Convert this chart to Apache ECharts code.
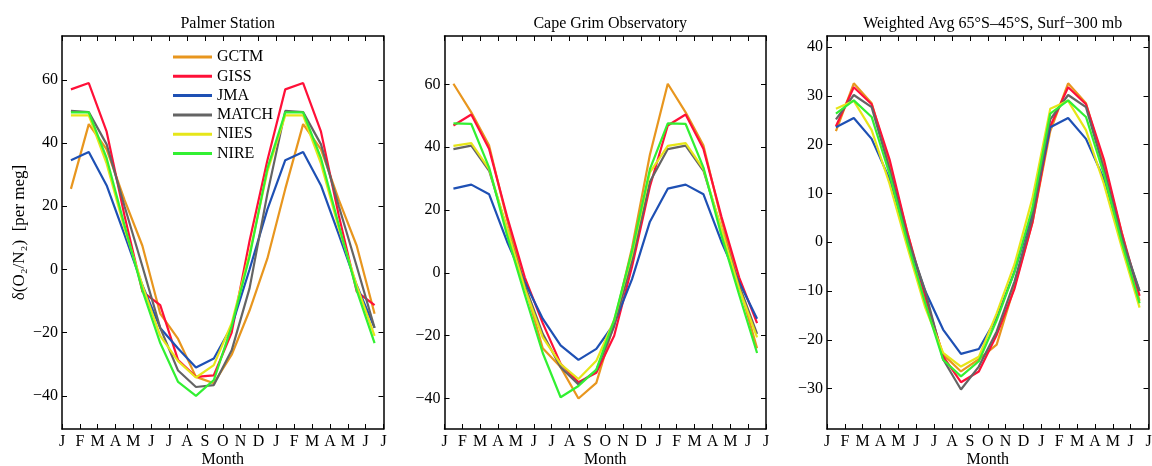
<!DOCTYPE html>
<html>
<head>
<meta charset="utf-8">
<script src="https://cdn.jsdelivr.net/npm/echarts@6/dist/echarts.min.js"></script>
<style>
html,body{margin:0;padding:0;background:#fff;}
#chart{width:1152px;height:466px;}
</style>
</head>
<body>
<div id="chart"></div>
<script>
// ---------- data ----------
const months = ['J','F','M','A','M','J','J','A','S','O','N','D'];
const models = ['GCTM','GISS','JMA','MATCH','NIES','NIRE'];
const colors = ['#E8961E','#FF1038','#1E50B4','#646464','#E6E619','#32F032'];
const panelTitles = ['Palmer Station','Cape Grim Observatory','Weighted Avg 65\u00B0S\u201345\u00B0S, Surf\u2212300 mb'];
const yTicksA = [-40,-20,0,20,40,60];
const yTicksC = [-30,-20,-10,0,10,20,30,40];

// Palmer Station (Jan..Dec)
const palmer_GCTM  = [25.5, 46, 38, 22, 7.5, -14, -22, -34, -36, -27, -13, 3.5];
const palmer_GISS  = [57, 59, 43.6, 17, -7, -11.3, -28.7, -34, -33.5, -20, 9, 34.6];
const palmer_JMA   = [34.6, 37.2, 26.6, 11, -5, -18.5, -25, -31, -28.2, -18, 0, 19];
const palmer_MATCH = [50.2, 49.8, 39.6, 20, 1, -18.5, -32, -37.2, -36.6, -25.6, -6, 24];
const palmer_NIES  = [48.8, 48.8, 33.5, 13, -5, -21, -29, -34.2, -30.3, -17, 5, 31];
const palmer_NIRE  = [49.7, 49.7, 35.2, 14, -6.6, -23.3, -35.6, -40, -35, -18, 4, 32];

// Cape Grim Observatory
const grim_GCTM  = [60.2, 51.1, 40.5, 17, -4, -24, -30, -40, -35, -16, 8, 37.6];
const grim_GISS  = [46.9, 50.4, 39.4, 18, -1.5, -16, -28.9, -34.8, -31.8, -20, 2, 27.5];
const grim_JMA   = [26.8, 28.1, 25, 10, -3, -14.6, -23.1, -27.7, -24.2, -16.2, -2, 16.3];
const grim_MATCH = [39.4, 40.5, 32.5, 14, -4, -19.4, -30, -35.5, -31, -17, 4, 29];
const grim_NIES  = [40.4, 41.3, 33, 14, -5, -20.5, -29, -33.8, -28, -15, 6, 32];
const grim_NIRE  = [47.6, 47.4, 33.5, 12, -7, -25.5, -39.6, -36, -30.8, -15, 7, 33];

// Weighted Avg 65S-45S
const wavg_GCTM  = [22.8, 32.6, 28.5, 16, 2, -12, -23, -26.5, -24, -21, -9, 4];
const wavg_GISS  = [23.8, 31.8, 28.3, 17, 2, -11, -23.4, -28.7, -26.5, -19, -9.5, 4];
const wavg_JMA   = [23.6, 25.5, 21.2, 13, 0.5, -10, -17.9, -22.9, -21.9, -15.5, -6, 6];
const wavg_MATCH = [25.2, 30.2, 27.7, 15, 1, -10, -24, -30.2, -25.5, -18.3, -8, 5];
const wavg_NIES  = [27.4, 29, 23, 12, -1, -13.4, -22.7, -25.5, -23.5, -14.6, -4.5, 9];
const wavg_NIRE  = [26.4, 29.1, 25.7, 14, 0, -12.5, -24.1, -27.5, -24.4, -16, -6, 7];

const panelData = [
  [palmer_GCTM, palmer_GISS, palmer_JMA, palmer_MATCH, palmer_NIES, palmer_NIRE],
  [grim_GCTM, grim_GISS, grim_JMA, grim_MATCH, grim_NIES, grim_NIRE],
  [wavg_GCTM, wavg_GISS, wavg_JMA, wavg_MATCH, wavg_NIES, wavg_NIRE]
];

// ---------- layout ----------
const FONT = '"Liberation Serif","DejaVu Serif",serif';
const gridLefts = [62, 444.5, 827];
const gridW = 321.5;
const yRanges = [[-50.5, 73.9], [-49.7, 75.4], [-38.3, 42.3]];
const yTicksList = [yTicksA, yTicksA, yTicksC];

function fmtNum(v){ return v < 0 ? '\u2212' + Math.abs(v) : String(v); }

const grids = [], xAxes = [], yAxes = [], series = [], titles = [];
for (let p = 0; p < 3; p++) {
  grids.push({left: gridLefts[p], top: 36, width: gridW, height: 393, containLabel: false, outerBoundsMode: 'none'});
  titles.push({text: panelTitles[p], left: gridLefts[p] + gridW/2, top: 11, textAlign: 'center',
    textStyle: {fontFamily: FONT, fontSize: 16, fontWeight: 'normal', color: '#000'}});
  const axLine = {show: true, onZero: false, lineStyle: {color: '#000', width: 1.5}};
  xAxes.push({gridIndex: p, type: 'value', position: 'bottom', min: 0, max: 18, interval: 1,
    axisLine: axLine, splitLine: {show: false},
    axisTick: {inside: true, length: 5, lineStyle: {color: '#000', width: 1}},
    axisLabel: {color: '#000', fontFamily: FONT, fontSize: 16, margin: 5,
      formatter: v => months[Math.round(v) % 12]},
    name: 'Month', nameLocation: 'middle', nameGap: 23, nameMoveOverlap: false,
    nameTextStyle: {fontFamily: FONT, fontSize: 16, color: '#000'}});
  xAxes.push({gridIndex: p, type: 'value', position: 'top', min: 0, max: 18, interval: 1,
    axisLine: axLine, splitLine: {show: false},
    axisTick: {inside: true, length: 5, lineStyle: {color: '#000', width: 1}},
    axisLabel: {show: false}});
  const yt = yTicksList[p];
  const yl = {gridIndex: p, type: 'value', position: 'left', min: yRanges[p][0], max: yRanges[p][1],
    axisLine: axLine, splitLine: {show: false},
    axisTick: {inside: true, length: 5, customValues: yt, lineStyle: {color: '#000', width: 1}},
    axisLabel: {color: '#000', fontFamily: FONT, fontSize: 16, margin: 4, customValues: yt, formatter: fmtNum}};
  if (p === 0) {
    yl.name = '\u03B4(O\u2082/N\u2082)  [per meg]';
    yl.nameLocation = 'middle';
    yl.nameGap = 34;
    yl.nameMoveOverlap = false;
    yl.nameRotate = 90;
    yl.nameTextStyle = {fontFamily: FONT, fontSize: 17, color: '#000'};
  }
  yAxes.push(yl);
  yAxes.push({gridIndex: p, type: 'value', position: 'right', min: yRanges[p][0], max: yRanges[p][1],
    axisLine: axLine, splitLine: {show: false},
    axisTick: {inside: true, length: 5, customValues: yt, lineStyle: {color: '#000', width: 1}},
    axisLabel: {show: false}});
  for (let m = 0; m < models.length; m++) {
    const vals = panelData[p][m];
    const pts = [];
    for (let i = 0; i < 18; i++) pts.push([i + 0.5, vals[i % 12]]);
    series.push({type: 'line', name: models[m], xAxisIndex: p*2, yAxisIndex: p*2,
      data: pts, symbol: 'none', silent: true, animation: false,
      lineStyle: {width: 2.2, color: colors[m]}, itemStyle: {color: colors[m]}});
  }
}

const chart = echarts.init(document.getElementById('chart'), null, {renderer: 'canvas'});
chart.setOption({
  backgroundColor: '#fff',
  animation: false,
  title: titles,
  grid: grids,
  xAxis: xAxes,
  yAxis: yAxes,
  legend: {data: models, orient: 'vertical', left: 168, top: 44, icon: 'rect',
    itemWidth: 39, itemHeight: 3, itemGap: 3.3,
    textStyle: {fontFamily: FONT, fontSize: 16, color: '#000', lineHeight: 16}},
  series: series
});
</script>
</body>
</html>
